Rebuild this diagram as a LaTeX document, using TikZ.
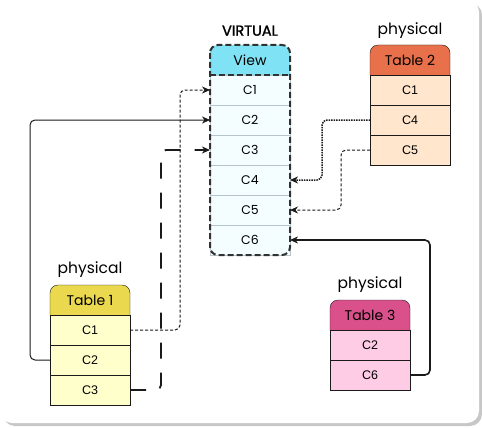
\documentclass[tikz,border=0pt]{standalone}
\usepackage{fontspec}
\setmainfont{Liberation Sans}
\newfontfamily\handfont{Poppins}
\newfontfamily\handbold[FakeBold=1.5]{Poppins}
\usetikzlibrary{positioning,arrows.meta,backgrounds}

\definecolor{viewhead}{HTML}{7FE3F5}
\definecolor{viewbody}{HTML}{F4FDFF}
\definecolor{viewgrid}{HTML}{B4C4CA}
\definecolor{headA}{HTML}{EAD84E}
\definecolor{bodyA}{HTML}{FFFFCC}
\definecolor{headB}{HTML}{E8704A}
\definecolor{bodyB}{HTML}{FFE6CC}
\definecolor{headC}{HTML}{D9508A}
\definecolor{bodyC}{HTML}{FFCCE6}
\definecolor{ink}{HTML}{1A1A1A}

\begin{document}
\begin{tikzpicture}[x=1pt, y=-1pt,
    cell/.style = {draw=ink, minimum width=80pt, minimum height=30pt, inner sep=0pt, outer sep=0pt, font=\fontsize{12.5}{14}\selectfont},
    vcell/.style = {cell, draw=viewgrid, font=\handfont\fontsize{12.5}{14}\selectfont},
    head/.style = {cell, draw=none, font=\handfont\fontsize{14}{16}\selectfont},
    tag/.style = {inner sep=0pt, font=\handfont\fontsize{15.5}{17}\selectfont},
    link/.style = {draw=ink, rounded corners=5pt, -{Stealth[length=8pt, width=7pt, inset=2.5pt]}},
    dashlink/.style = {link, line width=1pt, dash pattern=on 3pt off 2pt},
    dotlink/.style = {link, line width=1.5pt, dash pattern=on 1.5pt off 1pt},
    longlink/.style = {link, line width=1.8pt, dash pattern=on 16pt off 14pt},
    solidlink/.style = {link, line width=1pt},
    boldlink/.style = {link, line width=1.6pt},
    viewline/.style = {draw=ink!90, line width=2pt, dash pattern=on 6pt off 3pt}]

    % the view
    \node[head] (vh) at (250,60) {View};
    \node[vcell] (v1) [below=0pt of vh] {C1};
    \node[vcell] (v2) [below=0pt of v1] {C2};
    \node[vcell] (v3) [below=0pt of v2] {C3};
    \node[vcell] (v4) [below=0pt of v3] {C4};
    \node[vcell] (v5) [below=0pt of v4] {C5};
    \node[vcell] (v6) [below=0pt of v5] {C6};
    \node[tag, font=\handbold\fontsize{14.5}{16}\selectfont] (vtag) [above=9pt of vh] {VIRTUAL};

    % table 1
    \node[head] (t1h) at (90,300) {Table 1};
    \node[cell, fill=bodyA] (t1c1) [below=0pt of t1h] {C1};
    \node[cell, fill=bodyA] (t1c2) [below=0pt of t1c1] {C2};
    \node[cell, fill=bodyA] (t1c3) [below=0pt of t1c2] {C3};
    \node[tag] (t1tag) [above=7pt of t1h] {physical};

    % table 2
    \node[head] (t2h) at (410,60) {Table 2};
    \node[cell, fill=bodyB] (t2c1) [below=0pt of t2h] {C1};
    \node[cell, fill=bodyB] (t2c4) [below=0pt of t2c1] {C4};
    \node[cell, fill=bodyB] (t2c5) [below=0pt of t2c4] {C5};
    \node[tag] (t2tag) [above=6pt of t2h] {physical};

    % table 3
    \node[head] (t3h) at (370,315) {Table 3};
    \node[cell, fill=bodyC] (t3c2) [below=0pt of t3h] {C2};
    \node[cell, fill=bodyC] (t3c6) [below=0pt of t3c2] {C6};
    \node[tag] (t3tag) [above=7pt of t3h] {physical};

    \begin{scope}[on background layer]
        \fill[black!22, rounded corners=12pt] (3,3) rectangle (482,426);
        \fill[white, rounded corners=12pt] (0,0) rectangle (479,423);
        \fill[viewbody, rounded corners=8pt] (vh.north west) rectangle (v6.south east);
        \fill[viewhead, rounded corners=8pt] (vh.south west) -- (vh.north west) -- (vh.north east) -- (vh.south east);
        \filldraw[fill=headA, draw=ink, rounded corners=8pt] (t1h.south west) -- (t1h.north west) -- (t1h.north east) -- (t1h.south east);
        \filldraw[fill=headB, draw=ink, rounded corners=8pt] (t2h.south west) -- (t2h.north west) -- (t2h.north east) -- (t2h.south east);
        \filldraw[fill=headC, draw=ink, rounded corners=8pt] (t3h.south west) -- (t3h.north west) -- (t3h.north east) -- (t3h.south east);
    \end{scope}

    \draw[viewline, rounded corners=8pt] (vh.north west) rectangle (v6.south east);
    \draw[viewline] (vh.south west) -- (vh.south east);

    \draw[dashlink] (t1c1.east) -- ++(50,0) |- (v1.west);
    \draw[solidlink] (t1c2.west) -- ++(-20,0) |- (v2.west);
    \draw[longlink] (t1c3.east) -- ++(31,0) |- (v3.west);
    \draw[dotlink] (t2c4.west) -- ++(-48,0) |- (v4.east);
    \draw[dashlink] (t2c5.west) -- ++(-29,0) |- (v5.east);
    \draw[boldlink] (t3c6.east) -- ++(20,0) |- (v6.east);

    \useasboundingbox (0,0) rectangle (482,428);
\end{tikzpicture}
\end{document}
